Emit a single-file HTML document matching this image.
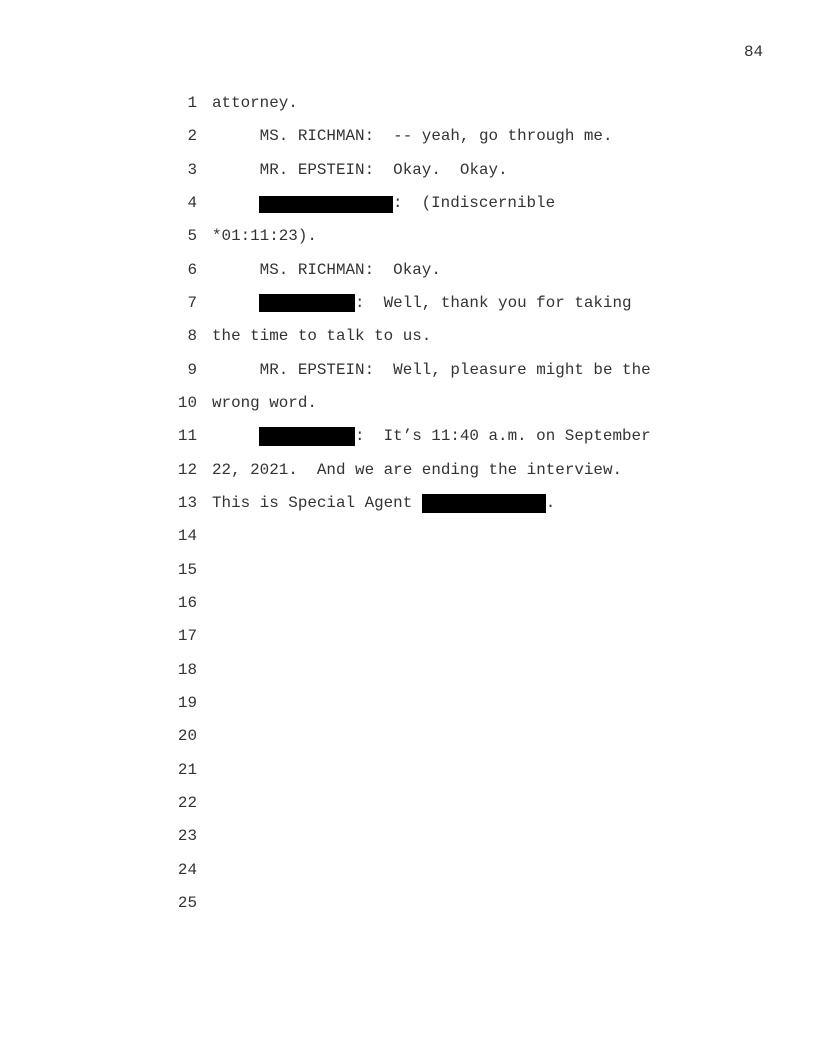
<!DOCTYPE html>
<html><head><meta charset="utf-8"><style>
html,body{margin:0;padding:0;background:#fff;}
body{width:816px;height:1056px;position:relative;overflow:hidden;font-family:"Liberation Mono",monospace;font-size:15.9px;color:#333;}
.n{position:absolute;left:150px;width:47px;text-align:right;line-height:20px;}
.t{position:absolute;left:212px;line-height:20px;white-space:pre;}
.r{position:absolute;background:#000;}
</style></head><body>
<div style="position:absolute;left:744px;top:42px;line-height:20px;">84</div>
<div class="n" style="top:93px">1</div><div class="t" style="top:93px">attorney.</div>
<div class="n" style="top:126px">2</div><div class="t" style="top:126px">     MS. RICHMAN:  -- yeah, go through me.</div>
<div class="n" style="top:160px">3</div><div class="t" style="top:160px">     MR. EPSTEIN:  Okay.  Okay.</div>
<div class="n" style="top:193px">4</div><div class="t" style="top:193px;left:393px">:  (Indiscernible</div>
<div class="n" style="top:226px">5</div><div class="t" style="top:226px">*01:11:23).</div>
<div class="n" style="top:260px">6</div><div class="t" style="top:260px">     MS. RICHMAN:  Okay.</div>
<div class="n" style="top:293px">7</div><div class="t" style="top:293px;left:355px">:  Well, thank you for taking</div>
<div class="n" style="top:326px">8</div><div class="t" style="top:326px">the time to talk to us.</div>
<div class="n" style="top:360px">9</div><div class="t" style="top:360px">     MR. EPSTEIN:  Well, pleasure might be the</div>
<div class="n" style="top:393px">10</div><div class="t" style="top:393px">wrong word.</div>
<div class="n" style="top:426px">11</div><div class="t" style="top:426px;left:355px">:  It’s 11:40 a.m. on September</div>
<div class="n" style="top:460px">12</div><div class="t" style="top:460px">22, 2021.  And we are ending the interview.</div>
<div class="n" style="top:493px">13</div><div class="t" style="top:493px">This is Special Agent              .</div>
<div class="n" style="top:526px">14</div>
<div class="n" style="top:560px">15</div>
<div class="n" style="top:593px">16</div>
<div class="n" style="top:626px">17</div>
<div class="n" style="top:660px">18</div>
<div class="n" style="top:693px">19</div>
<div class="n" style="top:726px">20</div>
<div class="n" style="top:760px">21</div>
<div class="n" style="top:793px">22</div>
<div class="n" style="top:826px">23</div>
<div class="n" style="top:860px">24</div>
<div class="n" style="top:893px">25</div>
<div class="r" style="left:259px;top:196px;width:134px;height:17px"></div>
<div class="r" style="left:259px;top:294px;width:96px;height:18px"></div>
<div class="r" style="left:259px;top:427px;width:96px;height:19px"></div>
<div class="r" style="left:422px;top:494px;width:124px;height:19px"></div>
</body></html>
